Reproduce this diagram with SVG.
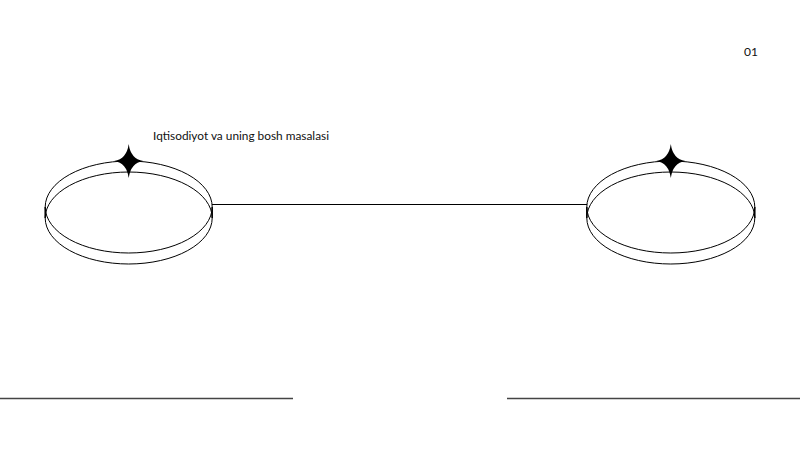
<svg xmlns="http://www.w3.org/2000/svg" width="800" height="450" viewBox="0 0 800 450">
<style>
.ring{fill:none;stroke:#000;stroke-width:1}
.star{fill:#000}
.t{font-family:Lato,"Open Sans",sans-serif;font-size:12px;fill:#111}
.rule{stroke:#444;stroke-width:1.3}
</style>
<defs>
<path id="star" class="star" d="M0,-17 Q2,-2 14.5,0 Q2,2 0,17 Q-2,2 -14.5,0 Q-2,-2 0,-17 Z"/>
</defs>
<rect width="800" height="450" fill="#fff"/>
<g id="connectors">
<line x1="212" y1="204.5" x2="587" y2="204.5" stroke="#000" stroke-width="1"/>
</g>
<g id="node-left">
<ellipse class="ring" cx="128.7" cy="207" rx="83.5" ry="46"/>
<ellipse class="ring" cx="128.7" cy="218" rx="83.5" ry="46"/>
<line x1="45.2" y1="207" x2="45.2" y2="218" stroke="#000" stroke-width="1.5"/>
<line x1="212.2" y1="207" x2="212.2" y2="218" stroke="#000" stroke-width="1.5"/>
<use href="#star" x="128.7" y="161"/>
</g>
<g id="node-right">
<ellipse class="ring" cx="670.8" cy="207" rx="84" ry="46"/>
<ellipse class="ring" cx="670.8" cy="218" rx="84" ry="46"/>
<line x1="586.8" y1="207" x2="586.8" y2="218" stroke="#000" stroke-width="1.5"/>
<line x1="754.8" y1="207" x2="754.8" y2="218" stroke="#000" stroke-width="1.5"/>
<use href="#star" x="670.8" y="161"/>
</g>
<g id="title">
<text class="t" x="153" y="140" textLength="176" lengthAdjust="spacingAndGlyphs">Iqtisodiyot va uning bosh masalasi</text>
</g>
<g id="page-number">
<text class="t" x="744" y="56" fill="#333">01</text>
</g>
<g id="rules">
<line class="rule" x1="0" y1="398.5" x2="293" y2="398.5"/>
<line class="rule" x1="507" y1="398.5" x2="800" y2="398.5"/>
</g>
</svg>
